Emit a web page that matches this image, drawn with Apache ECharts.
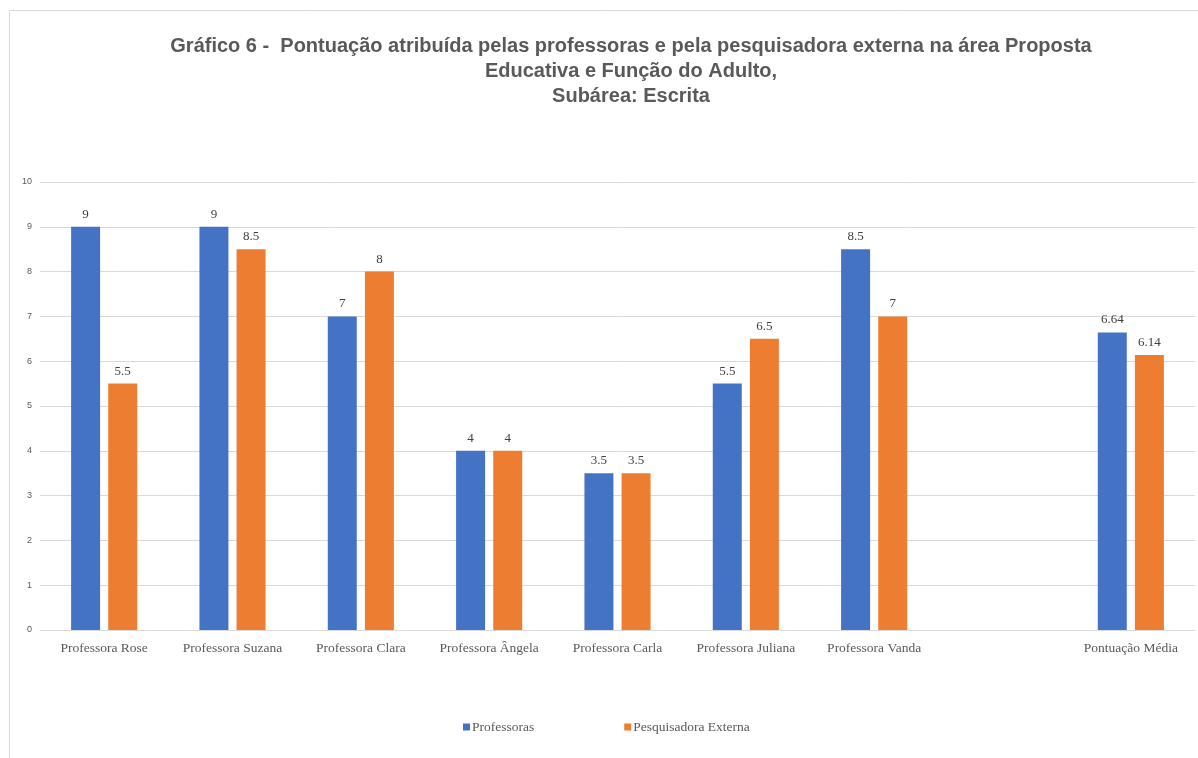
<!DOCTYPE html>
<html>
<head>
<meta charset="utf-8">
<script src="https://cdn.jsdelivr.net/npm/echarts@6/dist/echarts.min.js"></script>
<style>
  html, body { margin: 0; padding: 0; background: #fff; }
  #chart { width: 1198px; height: 758px; }
</style>
</head>
<body>
<div id="chart"></div>
<script>
// categorias (a oitava fica vazia, como no original)
var categorias = ['Professora Rose', 'Professora Suzana', 'Professora Clara', 'Professora Ângela',
  'Professora Carla', 'Professora Juliana', 'Professora Vanda', '', 'Pontuação Média']
var professoras = [9, 9, 7, 4, 3.5, 5.5, 8.5, '-', 6.64]
var pesquisadora = [5.5, 8.5, 8, 4, 3.5, 6.5, 7, '-', 6.14]
var yTicks = [0, 1, 2, 3, 4, 5, 6, 7, 8, 9, 10]

var myChart = echarts.init(document.getElementById('chart'))

var labelStyle = {
  show: true,
  position: 'top',
  distance: 6,
  fontFamily: 'Liberation Serif, serif',
  fontSize: 13,
  color: '#404040'
}

myChart.setOption({
  backgroundColor: '#fff',
  animation: false,
  title: {
    text: 'Gráfico 6 -  Pontuação atribuída pelas professoras e pela pesquisadora externa na área Proposta\nEducativa e Função do Adulto,\nSubárea: Escrita',
    left: 626,
    top: 29,
    textAlign: 'center',
    textStyle: {
      fontFamily: 'Liberation Sans, Arial, sans-serif',
      fontWeight: 'bold',
      fontSize: 20,
      lineHeight: 25,
      color: '#595959'
    }
  },
  graphic: [{
    type: 'polyline',
    shape: { points: [[9.5, 800], [9.5, 10.5], [1300, 10.5]] },
    style: { stroke: '#d9d9d9', lineWidth: 1, fill: null },
    silent: true
  }],
  legend: {
    data: ['Professoras', 'Pesquisadora Externa'],
    left: 458,
    top: 715,
    itemWidth: 7,
    itemHeight: 7,
    itemGap: 90,
    icon: 'rect',
    textStyle: {
      fontFamily: 'Liberation Serif, serif',
      fontSize: 13.5,
      color: '#595959',
      padding: [0, 0, 0, -3]
    }
  },
  grid: {
    left: 40,
    right: 3,
    top: 182,
    bottom: 128
  },
  xAxis: {
    type: 'category',
    data: categorias,
    axisLine: { lineStyle: { color: '#d9d9d9' } },
    axisTick: { show: false },
    axisLabel: {
      interval: 0,
      margin: 11,
      fontFamily: 'Liberation Serif, serif',
      fontSize: 13.5,
      color: '#595959'
    }
  },
  yAxis: {
    type: 'value',
    min: yTicks[0],
    max: yTicks[yTicks.length - 1],
    interval: 1,
    axisLine: { show: false },
    axisTick: { show: false },
    splitLine: { lineStyle: { color: '#d9d9d9' } },
    axisLabel: {
      margin: 8,
      fontFamily: 'Liberation Sans, sans-serif',
      fontSize: 9,
      color: '#595959'
    }
  },
  series: [
    {
      name: 'Professoras',
      type: 'bar',
      data: professoras,
      barWidth: 29,
      barGap: '28%',
      itemStyle: { color: '#4472C4' },
      label: labelStyle
    },
    {
      name: 'Pesquisadora Externa',
      type: 'bar',
      data: pesquisadora,
      barWidth: 29,
      itemStyle: { color: '#ED7D31' },
      label: labelStyle
    }
  ]
})
</script>
</body>
</html>
